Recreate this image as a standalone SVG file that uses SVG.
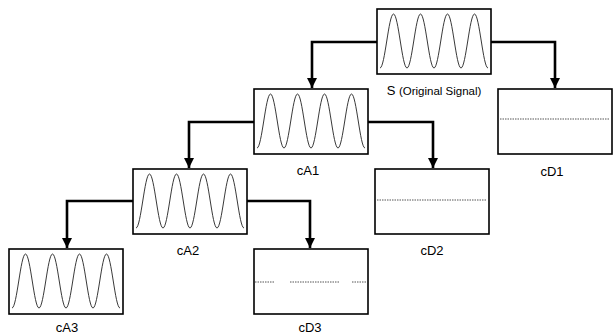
<svg xmlns="http://www.w3.org/2000/svg" xmlns:xlink="http://www.w3.org/1999/xlink" width="616" height="336" viewBox="0 0 616 336">
<style>
.box{fill:#fff;stroke:#000;stroke-width:1.6}
.wave{fill:none;stroke:#222;stroke-width:0.9}
.conn{fill:none;stroke:#000;stroke-width:2.6;stroke-linejoin:miter}
.noise{stroke:#555;stroke-width:1;stroke-dasharray:1.5 1}
.lbl{font-family:"Liberation Sans",Arial,sans-serif;font-size:13px;fill:#000;text-anchor:middle}
.sm{font-size:11.5px}
</style>
<defs>
<marker id="arr" markerUnits="userSpaceOnUse" markerWidth="10" markerHeight="12" refX="10" refY="5" orient="auto" viewBox="0 0 10 10">
<path d="M0,0 L10,5 L0,10 Z" fill="#000"/>
</marker>
<path id="sine" class="wave" d="M3,59 C7.92,59 11.58,5 16.5,5 S25.08,59 30,59 S38.58,5 43.5,5 S52.08,59 57,59 S65.58,5 70.5,5 S79.08,59 84,59 S92.58,5 97.5,5 S106.08,59 111,59"/>
</defs>
<rect width="616" height="336" fill="#fff"/>
<g id="connectors">
<path class="conn" d="M377,42 H312 V88" marker-end="url(#arr)"/>
<path class="conn" d="M491,42 H555 V88" marker-end="url(#arr)"/>
<path class="conn" d="M254,122 H189 V168" marker-end="url(#arr)"/>
<path class="conn" d="M368,122 H433 V168" marker-end="url(#arr)"/>
<path class="conn" d="M133,201 H67 V248" marker-end="url(#arr)"/>
<path class="conn" d="M247,201 H310 V248" marker-end="url(#arr)"/>
</g>
<g id="S">
<rect class="box" x="377" y="9" width="114" height="65"/>
<use xlink:href="#sine" href="#sine" transform="translate(377,9)"/>
<text class="lbl" x="434" y="95">S <tspan class="sm">(Original Signal)</tspan></text>
</g>
<g id="cA1">
<rect class="box" x="254" y="89" width="114" height="65"/>
<use xlink:href="#sine" href="#sine" transform="translate(254,89)"/>
<text class="lbl" x="308" y="175">cA1</text>
</g>
<g id="cD1">
<rect class="box" x="498" y="89" width="114" height="65"/>
<line class="noise" x1="500" y1="119" x2="610" y2="119"/>
<text class="lbl" x="552" y="176">cD1</text>
</g>
<g id="cA2">
<rect class="box" x="133" y="169" width="114" height="65"/>
<use xlink:href="#sine" href="#sine" transform="translate(133,169)"/>
<text class="lbl" x="188" y="255">cA2</text>
</g>
<g id="cD2">
<rect class="box" x="375" y="169" width="114" height="65"/>
<line class="noise" x1="377" y1="200" x2="487" y2="200"/>
<text class="lbl" x="432" y="255">cD2</text>
</g>
<g id="cA3">
<rect class="box" x="9" y="249" width="114" height="65"/>
<use xlink:href="#sine" href="#sine" transform="translate(9,249)"/>
<text class="lbl" x="67" y="332">cA3</text>
</g>
<g id="cD3">
<rect class="box" x="254" y="249" width="114" height="65"/>
<line class="noise" x1="255" y1="282" x2="274" y2="282"/>
<line class="noise" x1="290" y1="282" x2="340" y2="282"/>
<line class="noise" x1="352" y1="282" x2="366" y2="282"/>
<text class="lbl" x="310" y="332">cD3</text>
</g>
</svg>
